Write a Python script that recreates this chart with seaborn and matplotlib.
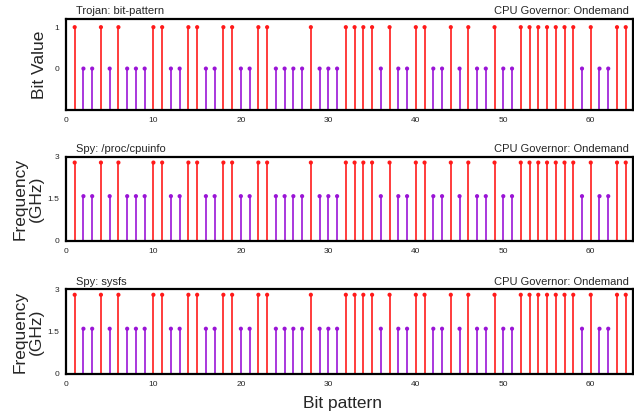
import numpy as np
import pandas as pd
import seaborn as sns
import matplotlib
matplotlib.use("Agg")
import matplotlib.pyplot as plt

# bit pattern sent by the trojan (positions 1..64)
bit_pos = list(range(1, 65))
bits = [1, 0, 0, 1, 0, 1, 0, 0, 0, 1, 1, 0, 0, 1, 1, 0,
        0, 1, 1, 0, 0, 1, 1, 0, 0, 0, 0, 1, 0, 0, 0, 1,
        1, 1, 1, 0, 1, 0, 0, 1, 1, 0, 0, 1, 0, 1, 0, 0,
        1, 0, 0, 1, 1, 1, 1, 1, 1, 1, 0, 1, 0, 0, 1, 1]
# frequency (GHz) seen by the spy for a 1 / 0 bit
freq_high = 2.8
freq_low = 1.6

panel_titles = ["Trojan: bit-pattern", "Spy: /proc/cpuinfo", "Spy: sysfs"]
governor = "CPU Governor: Ondemand"

sns.set_style("white")
plt.rcParams["font.family"] = ["Liberation Sans", "DejaVu Sans"]

RED = "#ff1a1a"
PURPLE = "#9a14d6"

df = pd.DataFrame({"pos": bit_pos, "bit": bits})
df["trojan"] = np.where(df["bit"] == 1, 1.0, 0.0)
df["freq"] = np.where(df["bit"] == 1, freq_high, freq_low)

fig = plt.figure(figsize=(6.34, 4.16), dpi=100)
rects = [[0.104, 0.7356, 0.894, 0.219],
         [0.104, 0.4207, 0.894, 0.202],
         [0.104, 0.101, 0.894, 0.204]]

for i, r in enumerate(rects):
    ax = fig.add_axes(r)
    col = "trojan" if i == 0 else "freq"
    base = -1.0 if i == 0 else 0.0
    for bval, c in [(1, RED), (0, PURPLE)]:
        sub = df[df["bit"] == bval]
        ax.vlines(sub["pos"], base, sub[col], color=c, lw=1.4, alpha=0.85)
    sns.scatterplot(data=df, x="pos", y=col, hue="bit",
                    palette={1: RED, 0: PURPLE}, s=9, linewidth=0,
                    legend=False, ax=ax, zorder=3)
    ax.set_xlim(0, 64.8)
    if i == 0:
        ax.set_ylim(-1, 1.2)
        ax.set_yticks([0, 1])
        ax.set_yticklabels(["0", "1"])
    else:
        ax.set_ylim(0, 3)
        ax.set_yticks([0, 1.5, 3])
        ax.set_yticklabels(["0", "1.5", "3"])
    ax.set_xticks([0, 10, 20, 30, 40, 50, 60])
    ax.set_xlabel("")
    ax.set_ylabel("")
    ax.tick_params(axis="both", direction="in", length=4, width=1,
                   labelsize=6, pad=5)
    for s in ax.spines.values():
        s.set_color("black")
        s.set_linewidth(1.6)
    ax.text(0.017, 1.03, panel_titles[i], transform=ax.transAxes,
            ha="left", va="bottom", fontsize=8)
    ax.text(0.993, 1.03, governor, transform=ax.transAxes,
            ha="right", va="bottom", fontsize=8)

fig.text(0.063, 0.845, "Bit Value", rotation=90, ha="center", va="center",
         fontsize=12.5)
for yc in [0.522, 0.203]:
    fig.text(0.045, yc, "Frequency\n(GHz)", rotation=90, ha="center",
             va="center", fontsize=12.5, linespacing=1.1)
fig.text(0.541, 0.03, "Bit pattern", ha="center", va="center", fontsize=12.5)

fig.savefig("out.png", dpi=100)
